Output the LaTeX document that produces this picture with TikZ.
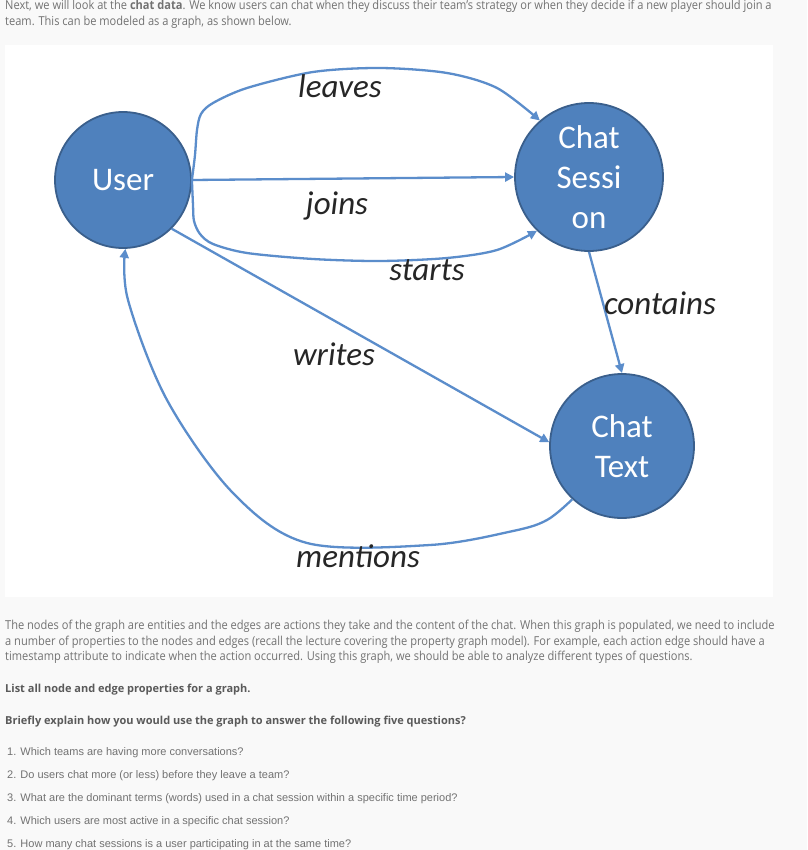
\documentclass[tikz,border=0pt]{standalone}
\usepackage{fontspec}
\setmainfont{Open Sans}
\newfontfamily\calib{Carlito}
\newfontfamily\condfont[FakeStretch=0.9]{Open Sans}
\newfontfamily\listfont{Liberation Sans}
\usetikzlibrary{arrows.meta}
\definecolor{pagebg}{HTML}{F9F9F9}
\definecolor{nodeblue}{HTML}{4F81BD}
\definecolor{nodeborder}{HTML}{3A5F8C}
\definecolor{edgeblue}{HTML}{5B8DCB}
\definecolor{textgray}{HTML}{727272}
\definecolor{boldgray}{HTML}{5A5A5A}
\begin{document}
\begin{tikzpicture}[x=1pt,y=-1pt,
  ent/.style={circle, fill=nodeblue, draw=nodeborder, line width=1.8pt, inner sep=0pt,
    text=white, font=\calib\fontsize{33}{40}\selectfont, align=center},
  lbl/.style={font=\calib\itshape\fontsize{33}{36}\selectfont, text=black!85, inner sep=0pt},
  edge/.style={draw=edgeblue, line width=2.3pt, -{Triangle[length=9pt,width=9pt]}},
  cond/.style={anchor=base west, inner sep=0pt, font=\condfont\fontsize{12.3}{14}\selectfont, text=textgray},
  boldline/.style={anchor=base west, inner sep=0pt, font=\bfseries\fontsize{11}{13}\selectfont, text=boldgray},
  item/.style={anchor=base west, inner sep=0pt, font=\listfont\fontsize{11}{13}\selectfont, text=textgray}]
\fill[pagebg] (0,0) rectangle (807,850);
\useasboundingbox (0,0) rectangle (807,850);
\fill[white] (5,45) rectangle (773,597);

% text
\node[cond] (t1) at (5,10) {Next, we will look at the \textbf{chat data}. We know users can chat when they discuss their team’s strategy or when they decide if a new player should join a};
\node[cond] (t2) at (5,26) {team. This can be modeled as a graph, as shown below.};
\node[cond] (p1) at (5,629) {The nodes of the graph are entities and the edges are actions they take and the content of the chat. When this graph is populated, we need to include};
\node[cond] (p2) at (5,645) {a number of properties to the nodes and edges (recall the lecture covering the property graph model). For example, each action edge should have a};
\node[cond] (p3) at (5,660) {timestamp attribute to indicate when the action occurred. Using this graph, we should be able to analyze different types of questions.};
\node[boldline] (b1) at (5,692) {List all node and edge properties for a graph.};
\node[boldline] (b2) at (5,724) {Briefly explain how you would use the graph to answer the following five questions?};
\node[item] (q1) at (7,755) {1. Which teams are having more conversations?};
\node[item] (q2) at (7,778) {2. Do users chat more (or less) before they leave a team?};
\node[item] (q3) at (7,801) {3. What are the dominant terms (words) used in a chat session within a specific time period?};
\node[item] (q4) at (7,824) {4. Which users are most active in a specific chat session?};
\node[item] (q5) at (7,847) {5. How many chat sessions is a user participating in at the same time?};

% nodes
\node[ent, minimum size=136pt] (user) at (123,180) {User};
\node[ent, minimum size=148pt] (cs) at (589,177) {Chat\\Sessi\\on};
\node[ent, minimum size=144pt] (ct) at (622,446) {Chat\\Text};

% edges
\draw[edge] plot[smooth, tension=0.5] coordinates {(user.east) (195,155) (197,130) (201,114) (213,103) (247,88) (313,72) (380,68) (447,73) (497,88) (cs.131)};
\draw[edge] (user.east) -- (cs.west);
\draw[edge] plot[smooth, tension=0.5] coordinates {(user.east) (193,205) (194,221) (200,234) (213,244) (247,253) (313,259) (380,261) (447,258) (497,250) (cs.226)};
\draw[edge] (cs.south) -- (ct.north);
\draw[edge] (user.-45) -- (ct.177);
\draw[edge] plot[smooth, tension=0.55] coordinates {(ct.227) (547,520) (513,531) (430,545) (307,543) (233,493) (167,400) (128,300) (user.272)};

% labels
\node[lbl] (lleaves) at (340,86) {leaves};
\node[lbl] (ljoins) at (337,206) {joins};
\node[lbl] (lstarts) at (427,270) {starts};
\node[lbl] (lcontains) at (660,303) {contains};
\node[lbl] (lwrites) at (334,354) {writes};
\node[lbl] (lmentions) at (358,556) {mentions};
\end{tikzpicture}
\end{document}
